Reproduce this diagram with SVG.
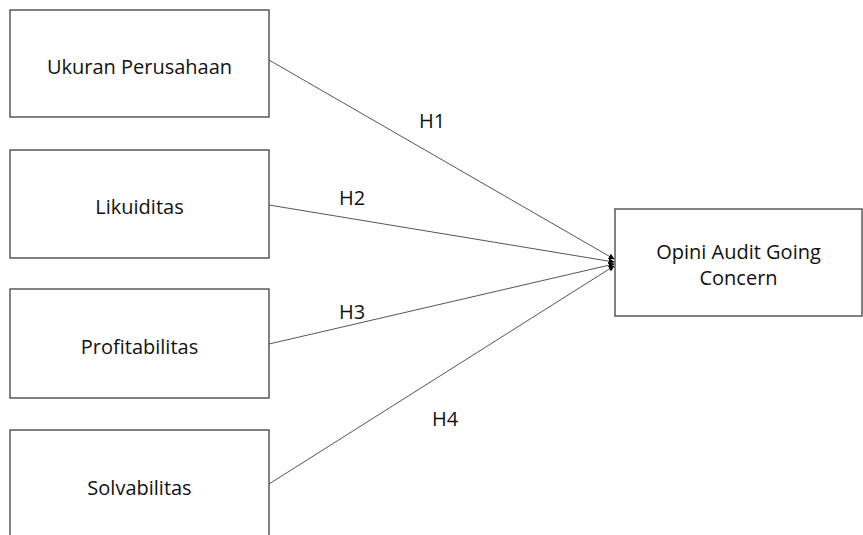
<svg xmlns="http://www.w3.org/2000/svg" width="863" height="535" viewBox="0 0 863 535">
<defs>
<style>
.box{fill:#fff;stroke:#404040;stroke-width:1.3}
.t{font-family:"Open Sans","Noto Sans",sans-serif;font-size:20px;fill:#111;text-anchor:middle}
.c{stroke:#555;stroke-width:1;fill:none;marker-end:url(#ah)}
</style>
<marker id="ah" viewBox="0 0 10 10" refX="9" refY="5" markerWidth="6" markerHeight="6" markerUnits="userSpaceOnUse" orient="auto">
<path d="M0,0 L10,5 L0,10 z" fill="#000"/>
</marker>
</defs>
<rect width="863" height="535" fill="#fff"/>
<g id="n1"><rect class="box" x="10" y="10" width="259" height="107"/><text class="t" x="139.5" y="74">Ukuran Perusahaan</text></g>
<g id="n2"><rect class="box" x="10" y="150" width="259" height="108"/><text class="t" x="139.5" y="214">Likuiditas</text></g>
<g id="n3"><rect class="box" x="10" y="289" width="259" height="109"/><text class="t" x="139.5" y="354">Profitabilitas</text></g>
<g id="n4"><rect class="box" x="10" y="430" width="259" height="120"/><text class="t" x="139.5" y="495">Solvabilitas</text></g>
<g id="n5"><rect class="box" x="615" y="209" width="247" height="107"/><text class="t" x="738.5" y="259">Opini Audit Going</text><text class="t" x="738.5" y="285">Concern</text></g>
<g id="connectors">
<line class="c" x1="269" y1="60" x2="614" y2="259"/>
<line class="c" x1="269" y1="205" x2="614" y2="262"/>
<line class="c" x1="269" y1="344" x2="614" y2="264"/>
<line class="c" x1="269" y1="484" x2="614" y2="266"/>
<text class="t" x="432" y="128">H1</text>
<text class="t" x="352" y="205">H2</text>
<text class="t" x="352" y="319">H3</text>
<text class="t" x="445" y="426">H4</text>
</g>
</svg>
